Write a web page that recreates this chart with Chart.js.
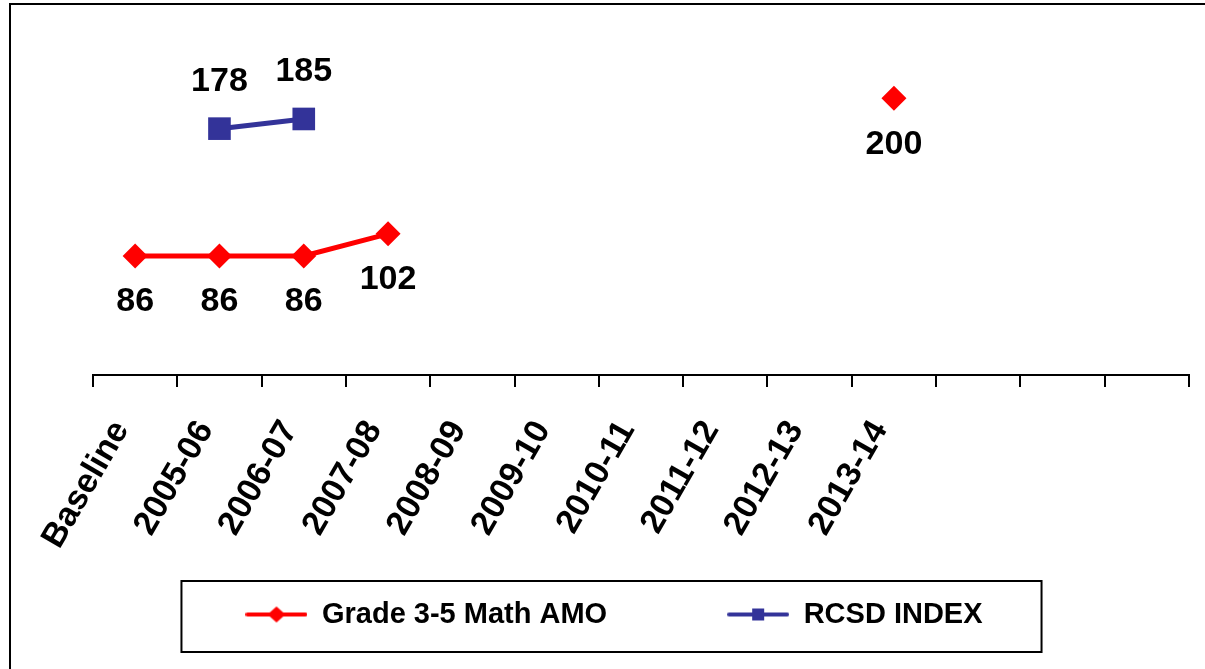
<!DOCTYPE html>
<html>
<head>
<meta charset="utf-8">
<script src="https://cdn.jsdelivr.net/npm/chart.js@4/dist/chart.umd.min.js"></script>
<style>
  html, body { margin: 0; padding: 0; background: #fff; }
  #wrap { position: relative; width: 1205px; height: 669px; overflow: hidden; }
  #frame { position: absolute; left: 9px; top: 3px; width: 1300px; height: 800px;
           border-left: 2px solid #000; border-top: 2px solid #000; pointer-events: none; }
  canvas { position: absolute; left: 0; top: 0; }
</style>
</head>
<body>
<div id="wrap">
  <canvas id="c" width="1205" height="669"></canvas>
  <div id="frame"></div>
</div>
<script>
// ---- data ----
const categories = ['Baseline', '2005-06', '2006-07', '2007-08', '2008-09', '2009-10',
                    '2010-11', '2011-12', '2012-13', '2013-14', '', '', ''];
const amoValues  = [86, 86, 86, 102, null, null, null, null, null, 200, null, null, null];
const rcsdValues = [null, 178, 185, null, null, null, null, null, null, null, null, null, null];
const seriesNames = ['Grade 3-5 Math AMO', 'RCSD INDEX'];
const seriesColors = ['#FF0000', '#333399'];

const FONT = '"Liberation Sans", Arial, sans-serif';

function makeIcon(color, shape) {
  const c = document.createElement('canvas');
  c.width = 62; c.height = 20;
  const g = c.getContext('2d');
  g.strokeStyle = color; g.fillStyle = color;
  g.lineWidth = 4; g.lineCap = 'round';
  g.beginPath(); g.moveTo(2, 10); g.lineTo(60, 10); g.stroke();
  g.beginPath();
  if (shape === 'diamond') {
    g.moveTo(22, 10); g.lineTo(31, 2); g.lineTo(40, 10); g.lineTo(31, 18); g.closePath();
  } else {
    g.rect(25, 4, 12, 12);
  }
  g.fill();
  return c;
}
const icons = [makeIcon(seriesColors[0], 'diamond'), makeIcon(seriesColors[1], 'square')];

const valueLabels = {
  id: 'valueLabels',
  afterDatasetsDraw(chart) {
    const ctx = chart.ctx;
    ctx.save();
    ctx.font = 'bold 34px ' + FONT;
    ctx.fillStyle = '#000';
    ctx.textAlign = 'center';
    ctx.textBaseline = 'middle';
    chart.data.datasets.forEach((ds, i) => {
      const meta = chart.getDatasetMeta(i);
      meta.data.forEach((pt, j) => {
        const v = ds.data[j];
        if (v === null || v === undefined) return;
        const off = ds.labelBelow[j] ? 46 : -47;
        ctx.fillText(String(v), pt.x, pt.y + off);
      });
    });
    ctx.restore();
  }
};

const legendFrame = {
  id: 'legendFrame',
  afterLayout(chart) {
    const L = chart.legend;
    if (L) { L.left -= 30; L.right -= 30; }
    // let rotated tick labels extend over the (empty) upper part of the legend block
    if (chart.scales.x) chart.scales.x.bottom = chart.height;
  },
  afterDraw(chart) {
    const L = chart.legend;
    if (!L || !L.legendHitBoxes || !L.legendHitBoxes.length) return;
    const hb = L.legendHitBoxes;
    const first = hb[0], last = hb[hb.length - 1];
    const ctx = chart.ctx;
    ctx.save();
    ctx.strokeStyle = '#000';
    ctx.lineWidth = 2;
    const left = first.left - 64, right = last.left + last.width + 59;
    const top = first.top - 19, bottom = first.top + 52;
    ctx.strokeRect(left, top, right - left, bottom - top);
    ctx.restore();
  }
};

new Chart(document.getElementById('c'), {
  type: 'line',
  data: {
    labels: categories,
    datasets: [
      {
        label: seriesNames[0],
        data: amoValues,
        borderColor: seriesColors[0],
        backgroundColor: seriesColors[0],
        borderWidth: 5,
        pointStyle: 'rectRot',
        pointRadius: 12.5,
        pointHoverRadius: 12.5,
        pointBorderWidth: 0,
        spanGaps: false,
        labelBelow: [true, true, true, true, true, true, true, true, true, true, true, true, true]
      },
      {
        label: seriesNames[1],
        data: rcsdValues,
        borderColor: seriesColors[1],
        backgroundColor: seriesColors[1],
        borderWidth: 5,
        pointStyle: 'rect',
        pointRadius: 16,
        pointHoverRadius: 16,
        pointBorderWidth: 0,
        spanGaps: false,
        labelBelow: [false, false, false, false, false, false, false, false, false, false, false, false, false]
      }
    ]
  },
  options: {
    responsive: false,
    animation: false,
    devicePixelRatio: 1,
    layout: { padding: { top: 29, left: 93, right: 10, bottom: 30 } },
    scales: {
      x: {
        type: 'category',
        offset: true,
        grid: { offset: true, drawOnChartArea: false, drawTicks: true, tickLength: 12, color: '#000', lineWidth: 2 },
        border: { display: true, color: '#000', width: 2 },
        ticks: {
          autoSkip: false, minRotation: 60, maxRotation: 60, padding: 27, labelOffset: -14,
          color: '#000', font: { family: FONT, size: 34, weight: 'bold' }
        },
        afterFit(scale) { scale.height = 105; scale.paddingRight = 0; scale.paddingLeft = 0; }
      },
      y: { display: false, min: 0, max: 250 }
    },
    plugins: {
      tooltip: { enabled: false },
      legend: {
        position: 'bottom',
        labels: {
          usePointStyle: true,
          pointStyleWidth: 62,
          padding: 120,
          color: '#000',
          font: { family: FONT, size: 29, weight: 'bold' },
          generateLabels(chart) {
            const items = Chart.defaults.plugins.legend.labels.generateLabels(chart);
            items.forEach((it, i) => { it.pointStyle = icons[i]; });
            return items;
          }
        }
      }
    }
  },
  plugins: [valueLabels, legendFrame]
});
</script>
</body>
</html>
